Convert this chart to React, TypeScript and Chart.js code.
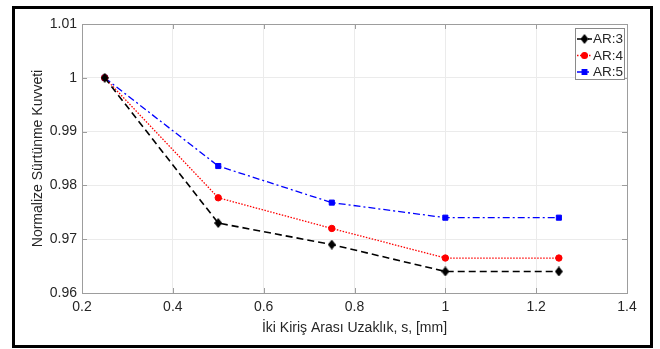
import React, { useEffect, useRef } from "react";
import { Chart, registerables } from "chart.js";
import { drawPoint } from "chart.js/helpers";

Chart.register(...registerables);

const xValues = [0.25, 0.5, 0.75, 1.0, 1.25];
const ar3 = [1.0, 0.973, 0.969, 0.964, 0.964];
const ar4 = [1.0, 0.9777, 0.972, 0.9665, 0.9665];
const ar5 = [1.0, 0.9836, 0.9768, 0.974, 0.974];
const seriesLabels = ["AR:3", "AR:4", "AR:5"];
const xTitle = "İki Kiriş Arası Uzaklık, s, [mm]";
const yTitle = "Normalize Sürtünme Kuvveti";

const FONT = "'Liberation Sans', Arial, Helvetica, sans-serif";
const TEXT = "#262626";
const AXIS = "#9d9d9d";

function makeDiamond(w: number, h: number, color: string) {
  const c = document.createElement("canvas");
  c.width = w;
  c.height = h;
  const g = c.getContext("2d") as CanvasRenderingContext2D;
  g.fillStyle = color;
  g.beginPath();
  g.moveTo(w / 2, 0);
  g.lineTo(w, h / 2);
  g.lineTo(w / 2, h);
  g.lineTo(0, h / 2);
  g.closePath();
  g.fill();
  return c;
}

const styles: any[] = [
  { color: "#000000", dash: [7, 4], width: 1.6, point: "rectRot", radius: 4.5 },
  { color: "#ff0000", dash: [1.5, 1.5], width: 1.3, point: "circle", radius: 3.2 },
  { color: "#0000ff", dash: [7, 3, 2, 3], width: 1.3, point: "rect", radius: 3.6 },
];

const decorPlugin = {
  id: "decor",
  beforeDraw(chart: any) {
    const ctx = chart.ctx;
    ctx.save();
    ctx.fillStyle = "#ffffff";
    ctx.fillRect(0, 0, chart.width, chart.height);
    ctx.restore();
  },
  afterDraw(chart: any) {
    const ctx = chart.ctx;
    const a = chart.chartArea;
    const xs = chart.scales.x;
    const ys = chart.scales.y;
    ctx.save();
    ctx.strokeStyle = AXIS;
    ctx.lineWidth = 1;
    ctx.setLineDash([]);
    ctx.strokeRect(Math.round(a.left) + 0.5, Math.round(a.top) + 0.5, Math.round(a.right - a.left), Math.round(a.bottom - a.top));
    const tl = 5;
    ctx.beginPath();
    xs.ticks.forEach((t: any) => {
      const px = Math.round(xs.getPixelForValue(t.value)) + 0.5;
      ctx.moveTo(px, a.bottom);
      ctx.lineTo(px, a.bottom - tl);
      ctx.moveTo(px, a.top);
      ctx.lineTo(px, a.top + tl);
    });
    ys.ticks.forEach((t: any) => {
      const py = Math.round(ys.getPixelForValue(t.value)) + 0.5;
      ctx.moveTo(a.left, py);
      ctx.lineTo(a.left + tl, py);
      ctx.moveTo(a.right, py);
      ctx.lineTo(a.right - tl, py);
    });
    ctx.stroke();

    ctx.fillStyle = TEXT;
    ctx.font = `14px ${FONT}`;
    ctx.textAlign = "center";
    ctx.textBaseline = "middle";
    ctx.fillText(xTitle, (a.left + a.right) / 2, 328);
    ctx.save();
    ctx.translate(38, (a.top + a.bottom) / 2);
    ctx.rotate(-Math.PI / 2);
    ctx.fillText(yTitle, 0, 0);
    ctx.restore();

    const lx = 575, ly = 28, lw = 49, lh = 51;
    ctx.fillStyle = "#ffffff";
    ctx.fillRect(lx, ly, lw, lh);
    ctx.strokeStyle = "#8a8a8a";
    ctx.lineWidth = 1;
    ctx.strokeRect(lx + 0.5, ly + 0.5, lw, lh);
    ctx.font = `13.5px ${FONT}`;
    ctx.textAlign = "left";
    seriesLabels.forEach((lab, i) => {
      const s = styles[i];
      const y = 39 + i * 16.5;
      ctx.strokeStyle = s.color;
      ctx.lineWidth = s.width;
      ctx.setLineDash(s.dash);
      ctx.beginPath();
      ctx.moveTo(577, y);
      ctx.lineTo(592, y);
      ctx.stroke();
      ctx.setLineDash([]);
      ctx.fillStyle = s.color;
      drawPoint(ctx, { pointStyle: s.point, radius: s.radius * 0.9, borderWidth: 1, rotation: 0 } as any, 584.5, y);
      ctx.fillStyle = TEXT;
      ctx.fillText(lab, 593, y + 0.5);
    });

    ctx.strokeStyle = "#000000";
    ctx.lineWidth = 3;
    ctx.strokeRect(13.5, 7.5, 638, 339);
    ctx.restore();
  },
};

const fmt = (v: number) => String(Number(Number(v).toFixed(2)));

export default function App() {
  const ref = useRef<HTMLCanvasElement | null>(null);
  useEffect(() => {
    document.body.style.margin = "0";
    styles[0].point = makeDiamond(8, 10, "#000000");
    const mk = (data: number[], i: number) => ({
      label: seriesLabels[i],
      data: xValues.map((x, k) => ({ x, y: data[k] })),
      borderColor: styles[i].color,
      backgroundColor: styles[i].color,
      borderWidth: styles[i].width,
      borderDash: styles[i].dash,
      pointStyle: styles[i].point,
      pointRadius: styles[i].radius,
      pointBorderWidth: 1,
      pointBackgroundColor: styles[i].color,
      pointBorderColor: styles[i].color,
      tension: 0,
      fill: false,
    });
    const chart = new Chart(ref.current as HTMLCanvasElement, {
      type: "line",
      data: { datasets: [mk(ar3, 0), mk(ar4, 1), mk(ar5, 2)] },
      options: {
        animation: false,
        responsive: false,
        devicePixelRatio: 1,
        layout: { padding: { left: 0, top: 24, right: 33, bottom: 0 } },
        plugins: { legend: { display: false }, tooltip: { enabled: false } },
        scales: {
          x: {
            type: "linear",
            min: 0.2,
            max: 1.4,
            ticks: {
              stepSize: 0.2,
              padding: 6,
              color: TEXT,
              font: { family: FONT, size: 14 },
              callback: (v: any) => fmt(v),
              maxRotation: 0,
            },
            grid: { color: "#ebebeb", drawTicks: false },
            border: { display: false },
            afterFit: (s: any) => { s.height = 56; },
          },
          y: {
            type: "linear",
            min: 0.96,
            max: 1.01,
            ticks: {
              stepSize: 0.01,
              padding: 5,
              color: TEXT,
              font: { family: FONT, size: 14 },
              callback: (v: any) => fmt(v),
            },
            grid: { color: "#ebebeb", drawTicks: false },
            border: { display: false },
            afterFit: (s: any) => { s.width = 82; },
          },
        },
      } as any,
      plugins: [decorPlugin],
    });
    return () => chart.destroy();
  }, []);
  return (
    <div style={{ width: 660, height: 349 }}>
      <canvas ref={ref} width={660} height={349} style={{ display: "block" }} />
    </div>
  );
}
